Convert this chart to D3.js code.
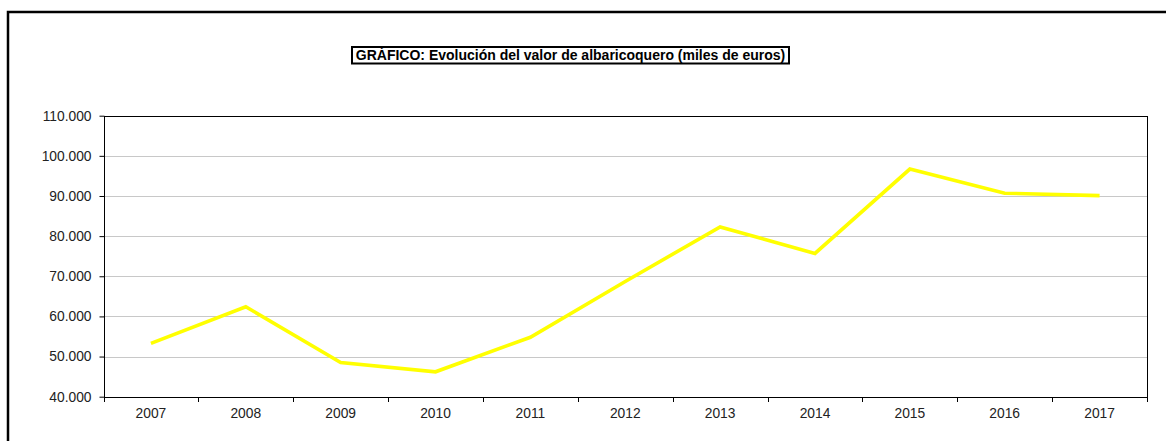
<!DOCTYPE html>
<html><head><meta charset="utf-8">
<script src="https://cdn.jsdelivr.net/npm/d3@7"></script>
<style>
html,body{margin:0;padding:0;background:#fff;}
svg{display:block;font-family:"Liberation Sans",Arial,sans-serif;}
</style></head>
<body>
<svg id="chart" width="1166" height="441"></svg>
<script>
const title = "GRÁFICO: Evolución del valor de albaricoquero (miles de euros)";
const years = ["2007","2008","2009","2010","2011","2012","2013","2014","2015","2016","2017"];
const values = [53300, 62400, 48500, 46200, 54800, 68700, 82300, 75700, 96700, 90700, 90100];
const yTicks = [40000, 50000, 60000, 70000, 80000, 90000, 100000, 110000];

const svg = d3.select("#chart");
const pLeft = 103.5, pRight = 1147, pTop = 115.7, pBottom = 396.7;

// outer frame
svg.append("rect").attr("x", 8).attr("y", 12).attr("width", 1170).attr("height", 440)
  .attr("fill", "none").attr("stroke", "#000").attr("stroke-width", 2.5);

const x = d3.scaleBand().domain(years).range([pLeft, pRight]);
const y = d3.scaleLinear().domain([40000, 110000]).range([pBottom, pTop]);

// gridlines
svg.append("g").selectAll("line").data(yTicks.slice(1, -1)).join("line")
  .attr("x1", pLeft).attr("x2", pRight)
  .attr("y1", d => Math.round(y(d)) + 0.5).attr("y2", d => Math.round(y(d)) + 0.5)
  .attr("stroke", "#c8c8c8").attr("stroke-width", 1);

// plot border
svg.append("rect").attr("x", Math.round(pLeft) + 0.5).attr("y", Math.round(pTop) + 0.5)
  .attr("width", Math.round(pRight) - Math.round(pLeft)).attr("height", Math.round(pBottom) - Math.round(pTop))
  .attr("fill", "none").attr("stroke", "#000").attr("stroke-width", 1);

const fmt = d => d3.format(",")(d).replace(/,/g, ".");

// y axis
const ya = svg.append("g").attr("transform", `translate(${Math.round(pLeft) + 0.5},0)`)
  .call(d3.axisLeft(y).tickValues(yTicks).tickFormat(fmt).tickSize(5).tickPadding(8));
ya.select(".domain").remove();
ya.selectAll("line").attr("stroke", "#000");
ya.selectAll("text").attr("font-size", 13.8).attr("fill", "#222")
  .attr("font-family", "'Liberation Sans', Arial, sans-serif");

// x axis
const xticks = years.map(d => x(d)).concat([pRight]);
svg.append("g").selectAll("line").data(xticks).join("line")
  .attr("x1", d => Math.round(d) + 0.5).attr("x2", d => Math.round(d) + 0.5)
  .attr("y1", Math.round(pBottom)).attr("y2", Math.round(pBottom) + 5)
  .attr("stroke", "#000");
svg.append("g").selectAll("text").data(years).join("text")
  .attr("x", d => x(d) + x.bandwidth() / 2).attr("y", 418)
  .attr("text-anchor", "middle").attr("font-size", 13.8).attr("fill", "#222")
  .text(d => d);

// line
const line = d3.line().x((d, i) => x(years[i]) + x.bandwidth() / 2).y(d => y(d));
svg.append("path").datum(values).attr("d", line)
  .attr("fill", "none").attr("stroke", "#ffff00").attr("stroke-width", 3.6)
  .attr("stroke-linejoin", "miter");

// title
const tg = svg.append("g");
tg.append("rect").attr("x", 352).attr("y", 47).attr("width", 437).attr("height", 16.5)
  .attr("fill", "#fff").attr("stroke", "#000").attr("stroke-width", 2);
tg.append("text").attr("x", 570.5).attr("y", 60).attr("text-anchor", "middle")
  .attr("font-size", 14).attr("font-weight", "bold").attr("fill", "#000").text(title);
</script>
</body></html>
